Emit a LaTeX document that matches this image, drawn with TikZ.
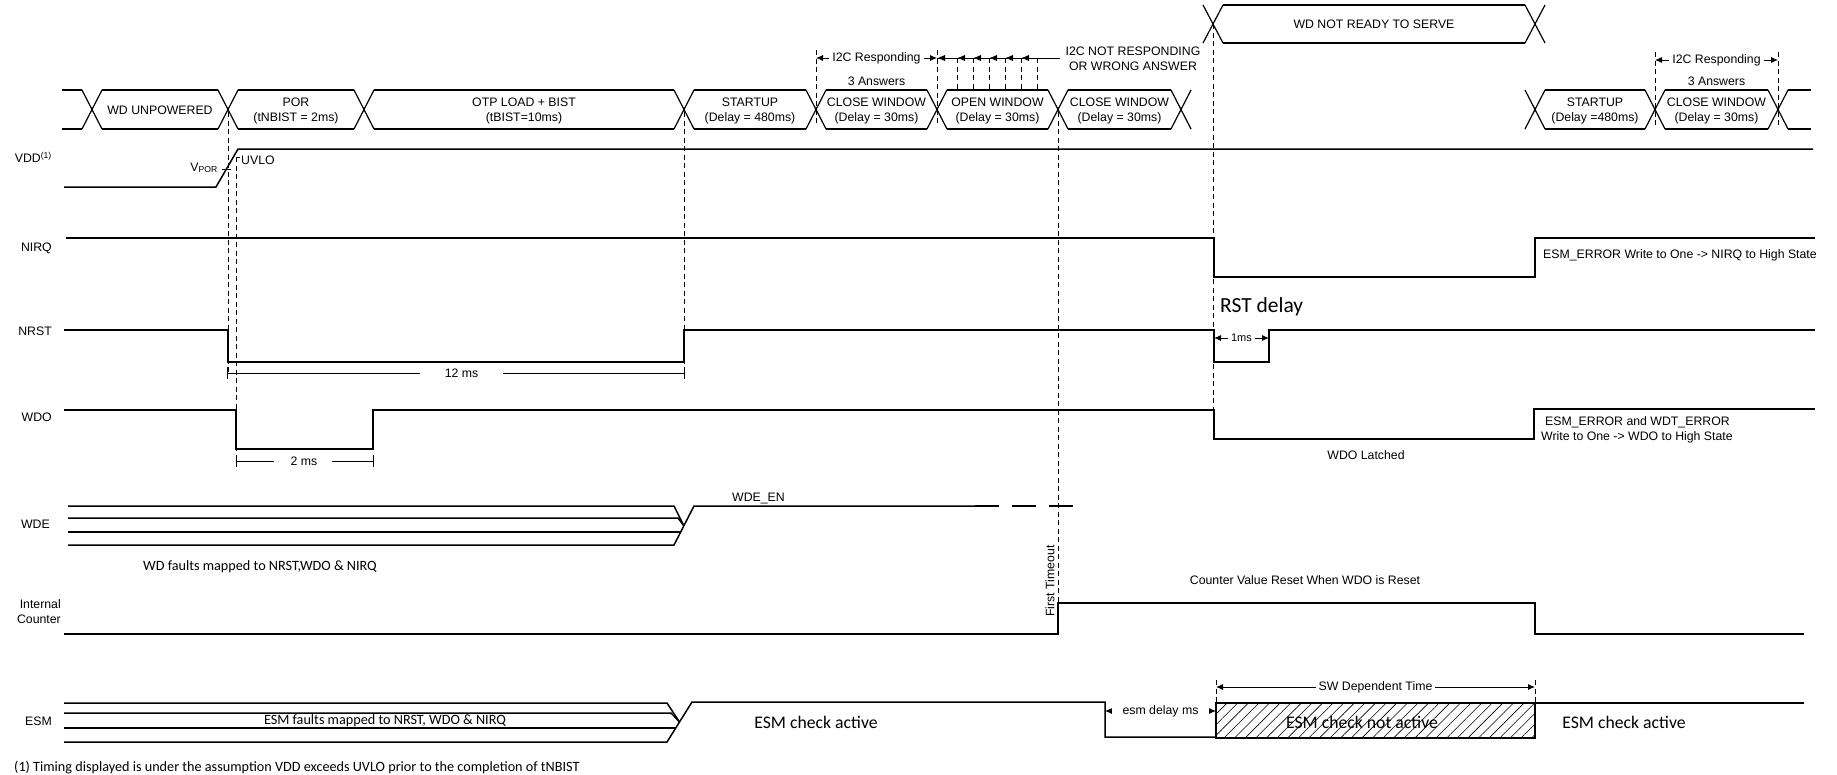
\documentclass[tikz,border=0pt]{standalone}
\usepackage{fontspec}
\setmainfont{Liberation Sans}
\newfontfamily\calfont{Carlito}
\usetikzlibrary{arrows.meta,patterns.meta}
\begin{document}
\begin{tikzpicture}[x=1pt,y=-1pt,
  sig/.style={line width=1.5pt},
  busline/.style={line width=1.2pt},
  dsh/.style={line width=0.8pt, dash pattern=on 5pt off 3.5pt},
  dim/.style={line width=0.9pt},
  arr/.style={{Latex[length=7pt,width=6pt]}-{Latex[length=7pt,width=6pt]}},
  txt/.style={font=\fontsize{12.3}{15}\selectfont, inner sep=0pt, align=center},
  small/.style={font=\fontsize{11}{13}\selectfont, inner sep=0pt},
  cal/.style={font=\calfont\fontsize{14.2}{17}\selectfont, inner sep=0pt},
  calbig/.style={font=\calfont\fontsize{17.7}{20}\selectfont, inner sep=0pt},
  calhuge/.style={font=\calfont\fontsize{21.5}{24}\selectfont, inner sep=0pt},
  dimlbl/.style={fill=white, inner xsep=3pt, inner ysep=1pt},
]
\useasboundingbox (0,0) rectangle (1837,774);

% ---------- lower bus ----------
\foreach \c in {92,228,364,684,816,937,1058,1181,1535,1655,1778}
  \draw[busline] ({\c-10},90) -- ({\c+10},129) ({\c-10},129) -- ({\c+10},90);
\foreach \a/\b in {62/82,102/218,238/354,374/674,694/806,826/927,947/1048,1068/1171,1545/1645,1665/1768,1788/1811}
  \draw[busline] (\a,90) -- (\b,90) (\a,129) -- (\b,129);
% ---------- upper bus ----------
\foreach \c in {1213,1535}
  \draw[busline] ({\c-10},5) -- ({\c+10},43) ({\c-10},43) -- ({\c+10},5);
\draw[busline] (1223,5) -- (1525,5) (1223,43) -- (1525,43);

% ---------- bus labels ----------
\node[txt] (wdunp) at (160,110.5) {WD UNPOWERED};
\node[txt] (por) at (296,110.5) {POR\\(tNBIST = 2ms)};
\node[txt] (otp) at (524,110.5) {OTP LOAD + BIST\\(tBIST=10ms)};
\node[txt] (st1) at (750,110.5) {STARTUP\\(Delay = 480ms)};
\node[txt] (cw1) at (876.5,110.5) {CLOSE WINDOW\\(Delay = 30ms)};
\node[txt] (ow) at (997.5,110.5) {OPEN WINDOW\\(Delay = 30ms)};
\node[txt] (cw2) at (1119.5,110.5) {CLOSE WINDOW\\(Delay = 30ms)};
\node[txt] (notready) at (1374,24) {WD NOT READY TO SERVE};
\node[txt] (st2) at (1595,110.5) {STARTUP\\(Delay =480ms)};
\node[txt] (cw3) at (1716.5,110.5) {CLOSE WINDOW\\(Delay = 30ms)};

% ---------- I2C annotations ----------
\draw[dim,arr] (816,58) -- (937,58) node[midway,txt,dimlbl] (i2c1) {I2C Responding};
\node[txt] (ans1) at (876.5,81) {3 Answers};
\draw[dim] (937,58) -- (1060,58);
\foreach \c in {938,958,974,990,1006,1022}
  \fill (\c,58) -- ({\c+7},55) -- ({\c+7},61) -- cycle;
\node[txt] (notresp) at (1133,59) {I2C NOT RESPONDING\\OR WRONG ANSWER};
\draw[dim,arr] (1655,60) -- (1778,60) node[midway,txt,dimlbl] (i2c2) {I2C Responding};
\node[txt] (ans2) at (1716.5,81) {3 Answers};

% ---------- signal names ----------
\node[txt,anchor=base east] (lvdd) at (52,162.5) {VDD\textsuperscript{(1)}};
\node[txt,anchor=base east] (lnirq) at (52,251.5) {NIRQ};
\node[txt,anchor=base east] (lnrst) at (52,335.5) {NRST};
\node[txt,anchor=base east] (lwdo) at (52,421.5) {WDO};
\node[txt,anchor=base east] (lwde) at (50,528.5) {WDE};
\node[txt,anchor=east,align=right] (lcnt) at (61,612) {Internal\\Counter};
\node[txt,anchor=base east] (lesm) at (52,725.5) {ESM};

% ---------- VDD ----------
\draw[sig] (64,187) -- (216,187) -- (238,149) -- (1813,149);
\draw[line width=0.8pt] (222,169) -- (231,169);
\draw[line width=0.8pt] (236,157) -- (240,157);
\node[txt,anchor=base east] (vpor) at (218,171) {V\textsubscript{POR}};
\node[txt,anchor=base west] (uvlo) at (241,164.5) {UVLO};

% ---------- NIRQ ----------
\draw[sig] (66,238) -- (1214,238) -- (1214,277) -- (1535,277) -- (1535,238) -- (1815,238);
\node[txt,anchor=base west] (nirqnote) at (1543,258.5) {ESM\_ERROR Write to One -> NIRQ to High State};

% ---------- NRST ----------
\draw[sig] (64,330) -- (228,330) -- (228,362) -- (684,362) -- (684,330) -- (1214,330) -- (1214,362) -- (1269,362) -- (1269,330) -- (1815,330);
\draw[dim] (227,373) -- (420,373) (503,373) -- (684,373) (227,367) -- (227,379) (684,367) -- (684,379);
\node[txt] (ms12) at (461.5,373) {12 ms};
\node[calhuge,anchor=west] (rstd) at (1220,307) {RST delay};
\draw[dim,arr] (1214,338) -- (1269,338) node[midway,small,dimlbl] (ms1) {1ms};

% ---------- WDO ----------
\draw[sig] (64,410) -- (236,410) -- (236,449) -- (373,449) -- (373,410) -- (1214,410) -- (1214,439) -- (1534,439) -- (1534,409) -- (1815,409);
\draw[dim] (236,461) -- (274,461) (332,461) -- (373,461) (236,455) -- (236,467) (373,455) -- (373,467);
\node[txt] (ms2) at (304,461) {2 ms};
\node[txt] (latched) at (1366,455) {WDO Latched};
\node[txt,anchor=base west] (wdonote1) at (1545,425.5) {ESM\_ERROR and WDT\_ERROR};
\node[txt,anchor=base west] (wdonote2) at (1541,440.5) {Write to One -> WDO to High State};

% ---------- WDE ----------
\draw[sig] (68,506) -- (674,506) -- (684,526);
\draw[sig] (68,518) -- (678,518) -- (684,526);
\draw[sig] (68,532) -- (680.6,532);
\draw[sig] (68,545) -- (674,545) -- (694,506) -- (975,506);
\draw[sig,dash pattern=on 24pt off 13pt] (975,506) -- (1080,506);
\node[txt,anchor=base west] (wdeen) at (732,501) {WDE\_EN};
\node[cal] (wdfaults) at (260,567) {WD faults mapped to NRST,WDO \& NIRQ};

% ---------- Internal counter ----------
\draw[sig] (64,634) -- (1058,634) -- (1058,603) -- (1535,603) -- (1535,634) -- (1804,634);
\node[txt,rotate=90] (firstto) at (1050,581) {First Timeout};
\node[txt] (cntreset) at (1305,580) {Counter Value Reset When WDO is Reset};

% ---------- ESM ----------
\draw[sig] (64,703) -- (667,703) -- (679.5,722);
\draw[sig] (64,713) -- (671,713) -- (679.5,722);
\draw[sig] (64,728) -- (675.8,728);
\draw[sig] (64,742) -- (667,742) -- (692,702) -- (1105,702) -- (1105,737) -- (1216,737);
\draw[line width=1.2pt, pattern={Lines[angle=45,distance=7.5pt,line width=0.6pt]}] (1216,703) rectangle (1535,738);
\draw[sig] (1535,703) -- (1804,703);
\node[cal] (esmfaults) at (385,721) {ESM faults mapped to NRST, WDO \& NIRQ};
\node[calbig] (esmact1) at (816,722) {ESM check active};
\draw[dim,arr] (1105,711) -- (1216,711) node[midway,txt,fill=white,inner xsep=11pt,inner ysep=1pt] (esmdel) {esm delay ms};
\draw[dim,arr] (1216,687) -- (1535,687) node[midway,txt,dimlbl] (swdep) {SW Dependent Time};
\node[calbig] (esmnot) at (1362,722) {ESM check not active};
\node[calbig] (esmact2) at (1624,722) {ESM check active};

% ---------- dashed markers ----------
\draw[dsh] (228,112) -- (228,375);
\draw[dsh] (236,157) -- (236,463);
\draw[dsh] (684,112) -- (684,373);
\draw[dsh] (816,50) -- (816,125);
\draw[dsh] (937,50) -- (937,125);
\foreach \c in {957,973,989,1005,1021,1037} \draw[dsh] (\c,58) -- (\c,90);
\draw[dsh] (1058,112) -- (1058,603);
\draw[dsh] (1213,24) -- (1213,410);
\draw[dsh] (1655,52) -- (1655,125);
\draw[dsh] (1778,52) -- (1778,125);
\draw[dsh] (1216,680) -- (1216,703);
\draw[dsh] (1535,680) -- (1535,703);

% ---------- footnote ----------
\node[cal,anchor=base west] (foot) at (14,771) {(1) Timing displayed is under the assumption VDD exceeds UVLO prior to the completion of tNBIST};
\end{tikzpicture}
\end{document}
